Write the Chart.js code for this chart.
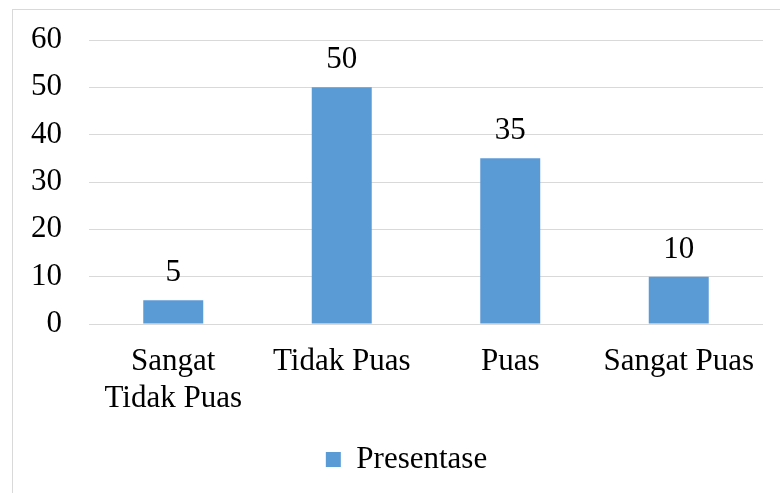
<!DOCTYPE html>
<html>
<head>
<meta charset="utf-8">
<script src="https://cdn.jsdelivr.net/npm/chart.js@4/dist/chart.umd.min.js"></script>
<style>
  html, body { margin: 0; padding: 0; background: #fff; overflow: hidden; }
  #wrap { position: relative; width: 780px; height: 493px; overflow: hidden; }
  #frame { position: absolute; left: 12px; top: 9px; width: 900px; height: 600px;
           border-left: 1px solid #d9d9d9; border-top: 1px solid #d9d9d9; }
  #box { position: absolute; left: 0; top: 0; width: 780px; height: 493px; }
</style>
</head>
<body>
<div id="wrap">
  <div id="frame"></div>
  <div id="box"><canvas id="chart"></canvas></div>
</div>
<script>
// Survey data
const categories = [["Sangat", "Tidak Puas"], "Tidak Puas", "Puas", "Sangat Puas"];
const presentase = [5, 50, 35, 10];
const yTicks = [0, 10, 20, 30, 40, 50, 60];

const FONT = "'Liberation Serif', 'Times New Roman', serif";

// Writes each bar's value above it
const valueLabels = {
    id: 'valueLabels',
    afterDatasetsDraw(chart) {
        const ctx = chart.ctx;
        const meta = chart.getDatasetMeta(0);
        ctx.save();
        ctx.font = "31px " + FONT;
        ctx.fillStyle = "#000";
        ctx.textAlign = "center";
        ctx.textBaseline = "alphabetic";
        meta.data.forEach((bar, i) => {
            ctx.fillText(String(presentase[i]), bar.x, bar.y - 19);
        });
        ctx.restore();
    }
};

// Legend sits a little right of the canvas centre
const legendShift = {
    id: 'legendShift',
    afterLayout(chart) {
        chart.legend.left += 25;
        chart.legend.right += 25;
    }
};

new Chart(document.getElementById("chart"), {
    type: "bar",
    data: {
        labels: categories,
        datasets: [{
            label: "Presentase",
            data: presentase,
            backgroundColor: "#5b9bd5",
            categoryPercentage: 1.0,
            barPercentage: 0.356
        }]
    },
    options: {
        responsive: true,
        maintainAspectRatio: false,
        animation: false,
        layout: { padding: { left: 0, right: 17, top: 40, bottom: 8 } },
        scales: {
            y: {
                min: 0,
                max: 60,
                afterBuildTicks(scale) {
                    scale.ticks = yTicks.map(v => ({ value: v }));
                },
                afterFit(scale) {
                    scale.width = 89;
                    scale.paddingTop = 0;
                    scale.paddingBottom = 0;
                },
                grid: { color: "#d9d9d9", lineWidth: 1, drawTicks: false },
                border: { display: false },
                ticks: {
                    color: "#000",
                    padding: 27,
                    font: { family: FONT, size: 31 }
                }
            },
            x: {
                grid: { display: false, drawTicks: false },
                border: { display: false },
                afterFit(scale) { scale.height = 110; },
                ticks: {
                    color: "#000",
                    padding: 19,
                    maxRotation: 0,
                    autoSkip: false,
                    font: { family: FONT, size: 31, lineHeight: 1.2 }
                }
            }
        },
        plugins: {
            legend: {
                position: "bottom",
                labels: {
                    color: "#000",
                    boxWidth: 15,
                    boxHeight: 15,
                    padding: 10,
                    font: { family: FONT, size: 31 }
                }
            },
            tooltip: { enabled: false }
        }
    },
    plugins: [valueLabels, legendShift]
});
</script>
</body>
</html>
